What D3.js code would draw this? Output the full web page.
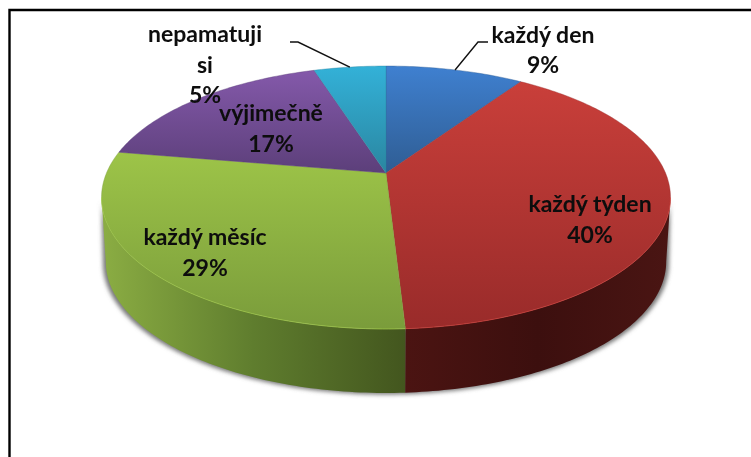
<!DOCTYPE html>
<html>
<head>
<meta charset="utf-8">
<title>graf</title>
<script src="https://cdn.jsdelivr.net/npm/d3@7"></script>
<style>
  html, body { margin: 0; padding: 0; background: #fff; overflow: hidden; }
  svg { display: block; }
  text { font-family: Lato, "Open Sans", sans-serif; font-weight: 700; font-size: 23px; fill: #0b0b0b; text-anchor: middle; }
</style>
</head>
<body>
<script>
var categories = ["každý den", "každý týden", "každý měsíc", "výjimečně", "nepamatuji si"];
var values = [9.4, 39.7, 28.6, 17.4, 4.9];

// top surface colours (top and bottom of each slice)
var topLight = ["#3f80d0", "#c93f3a", "#9dc448", "#8459aa", "#33b1d8"];
var topDark = ["#2f5d93", "#992b2a", "#7a9c3b", "#5c3f7a", "#2a86a0"];
var wallStops = [null, ["#4b1412", "#3c0f0e", "#4a1513"], ["#8bad43", "#5f7d2e", "#43561e"], null, null];

var width = 751, height = 457;

// pie geometry, the disc is seen in perspective so the centre is not the middle of the ellipse
var cx = 386, cy = 173;
var bx = 279.5, ay = 126.9, persp = -0.1863;
var depth = 64;

function project(angle) {
  var u = Math.sin(angle), v = -Math.cos(angle);
  var w = 1 + persp * v;
  return [cx + bx * u / w, cy + ay * v / w];
}

function projectLow(angle) {
  var p = project(angle);
  return [cx + (p[0] - cx) * 0.985, p[1] + depth];
}

function sample(a0, a1) {
  var n = Math.max(2, Math.ceil(Math.abs(a1 - a0) * 60));
  return d3.range(n + 1).map(function(i) { return a0 + (a1 - a0) * i / n; });
}

var line = d3.line();

var svg = d3.select("body").append("svg")
  .attr("width", width)
  .attr("height", height);

var defs = svg.append("defs");

defs.append("filter").attr("id", "soft")
  .attr("x", "-10%").attr("y", "-10%").attr("width", "120%").attr("height", "120%")
  .append("feGaussianBlur").attr("stdDeviation", 2.2);

defs.append("filter").attr("id", "crisp")
  .append("feGaussianBlur").attr("stdDeviation", 0.4);

// frame, it runs off the picture on the right and at the bottom
svg.append("path")
  .attr("d", "M" + 9.5 + "," + (height + 5) + "V10H" + (width + 5))
  .attr("fill", "none")
  .attr("stroke", "#000")
  .attr("stroke-width", 2.4);

var pie = d3.pie().sort(null).value(function(d) { return d; });
var arcs = pie(values);

// gradients
arcs.forEach(function(d, i) {
  var g = defs.append("linearGradient").attr("id", "top" + i)
    .attr("x1", 0).attr("y1", 0).attr("x2", 0).attr("y2", 1);
  g.append("stop").attr("offset", 0).attr("stop-color", topLight[i]);
  g.append("stop").attr("offset", 1).attr("stop-color", topDark[i]);

  if (wallStops[i]) {
    var w = defs.append("linearGradient").attr("id", "wall" + i)
      .attr("x1", 0).attr("y1", 0).attr("x2", 1).attr("y2", 0);
    wallStops[i].forEach(function(c, j) {
      w.append("stop").attr("offset", j / (wallStops[i].length - 1)).attr("stop-color", c);
    });
  }
});

// the wall is only visible between the two widest points of the disc
var wallStart = Math.acos(persp), wallEnd = 2 * Math.PI - wallStart;
var walls = svg.append("g");

// soft shadow round the outside of the wall
var whole = sample(wallStart, wallEnd);
walls.append("path")
  .attr("d", line(whole.map(project).concat(whole.slice().reverse().map(function(a) {
    var p = projectLow(a);
    return [cx + (p[0] - cx) * 1.01, p[1] + 1.5];
  }))) + "Z")
  .attr("fill", "#777")
  .attr("filter", "url(#soft)");

arcs.forEach(function(d, i) {
  var a0 = Math.max(d.startAngle, wallStart), a1 = Math.min(d.endAngle, wallEnd);
  if (a1 <= a0) return;
  var angles = sample(a0, a1);
  walls.append("path")
    .attr("d", line(angles.map(project).concat(angles.slice().reverse().map(projectLow))) + "Z")
    .attr("fill", "url(#wall" + i + ")");
});

// top of the pie
var slices = svg.append("g");
arcs.forEach(function(d, i) {
  var pts = [[cx, cy]].concat(sample(d.startAngle, d.endAngle).map(project));
  slices.append("path")
    .attr("d", line(pts) + "Z")
    .attr("fill", "url(#top" + i + ")")
    .attr("stroke", topDark[i])
    .attr("stroke-width", 0.4);
});

// light rim on the front edge
arcs.forEach(function(d, i) {
  var a0 = Math.max(d.startAngle, wallStart), a1 = Math.min(d.endAngle, wallEnd);
  if (a1 <= a0) return;
  slices.append("path")
    .attr("d", line(sample(a0, a1).map(project)))
    .attr("fill", "none")
    .attr("stroke", d3.color(topLight[i]).brighter(0.2))
    .attr("stroke-width", 1)
    .attr("opacity", 0.6);
});

// leader lines for the two outside labels
var leaders = [
  { slice: 0, elbow: [478, 42], end: [488, 42] },
  { slice: 4, elbow: [298, 42], end: [290, 42] }
];
leaders.forEach(function(l) {
  var d = arcs[l.slice];
  svg.append("path")
    .attr("d", line([project((d.startAngle + d.endAngle) / 2), l.elbow, l.end]))
    .attr("fill", "none")
    .attr("stroke", "#111")
    .attr("stroke-width", 1.4);
});

// labels
var labelLines = [["každý den"], ["každý týden"], ["každý měsíc"], ["výjimečně"], ["nepamatuji", "si"]];
var labelPos = [[543, 42.5], [590, 212], [205, 245], [271, 121], [205, 42]];
var lineStep = 30.5;

arcs.forEach(function(d, i) {
  var rows = labelLines[i].concat(Math.round(values[i]) + "%");
  var t = svg.append("text")
    .attr("filter", "url(#crisp)");
  rows.forEach(function(r, j) {
    t.append("tspan")
      .attr("x", labelPos[i][0])
      .attr("y", labelPos[i][1] + j * lineStep)
      .text(r);
  });
});
</script>
</body>
</html>
